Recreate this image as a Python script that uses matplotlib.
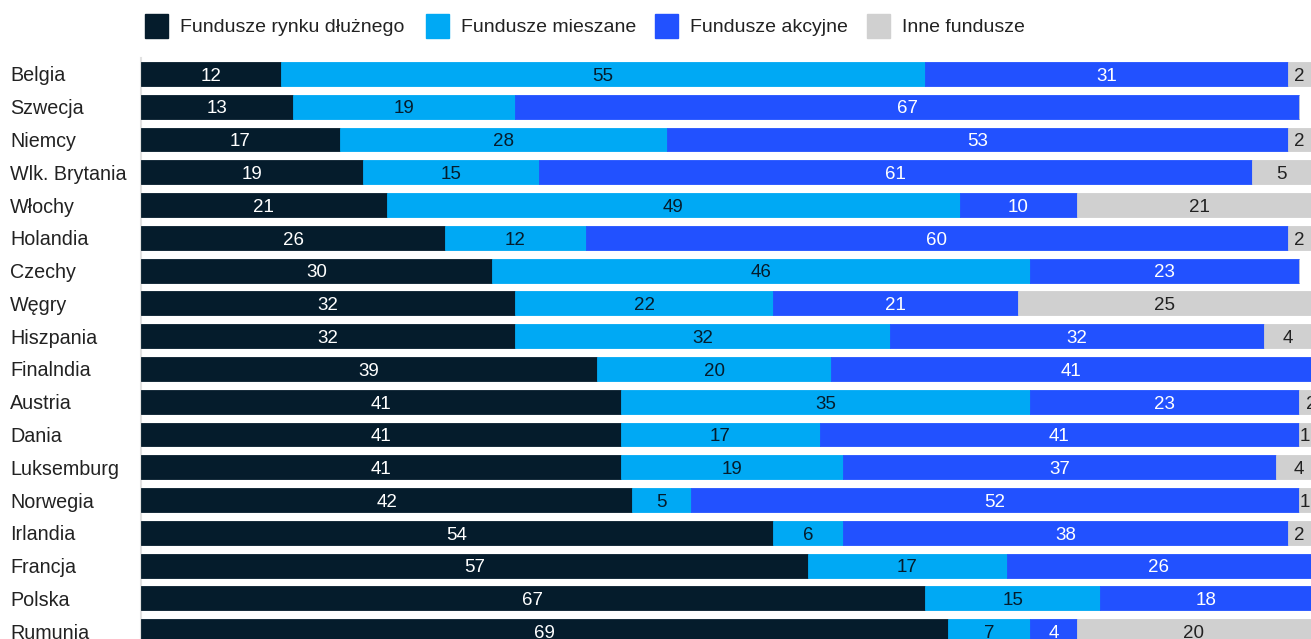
import matplotlib
matplotlib.use("Agg")
import matplotlib.pyplot as plt
from matplotlib.patches import Rectangle

plt.rcParams["font.family"] = ["Liberation Sans", "DejaVu Sans"]

countries = [
    "Belgia", "Szwecja", "Niemcy", "Wlk. Brytania", "Włochy", "Holandia",
    "Czechy", "Węgry", "Hiszpania", "Finalndia", "Austria", "Dania",
    "Luksemburg", "Norwegia", "Irlandia", "Francja", "Polska", "Rumunia",
]
debt = [12, 13, 17, 19, 21, 26, 30, 32, 32, 39, 41, 41, 41, 42, 54, 57, 67, 69]
mixed = [55, 19, 28, 15, 49, 12, 46, 22, 32, 20, 35, 17, 19, 5, 6, 17, 15, 7]
equity = [31, 67, 53, 61, 10, 60, 23, 21, 32, 41, 23, 41, 37, 52, 38, 26, 18, 4]
other = [2, 0, 2, 5, 21, 2, 0, 25, 4, 0, 2, 1, 4, 1, 2, 0, 1, 20]

series = [
    ("Fundusze rynku dłużnego", debt, "#051C2C", "white"),
    ("Fundusze mieszane", mixed, "#00A9F4", "#051C2C"),
    ("Fundusze akcyjne", equity, "#2251FF", "white"),
    ("Inne fundusze", other, "#D0D0D0", "#222222"),
]

fig = plt.figure(figsize=(13.11, 6.39), dpi=100)
ax = fig.add_axes([0.1075, -0.0135, 0.8925, 0.9235])

y = range(len(countries))
left = [0] * len(countries)
for name, vals, color, txt_color in series:
    ax.barh(y, vals, left=left, height=0.73, color=color,
            edgecolor=color, linewidth=0.6, zorder=3)
    for i, v in enumerate(vals):
        if v > 0:
            ax.text(left[i] + v / 2, i + 0.07, str(v), ha="center", va="center",
                    color=txt_color, fontsize=13.5, zorder=4)
    left = [l + v for l, v in zip(left, vals)]

ax.set_xlim(0, 100)
ax.set_ylim(len(countries) - 0.5, -0.5)
ax.set_yticks(list(y))
ax.set_yticklabels(countries, fontsize=14.2, color="#222222")
for lbl in ax.get_yticklabels():
    lbl.set_horizontalalignment("left")
# pad in points: puts label starts ~10 px from the figure edge
ax.tick_params(axis="y", length=0, pad=94)
ax.set_xticks([])
for spine in ["top", "right", "bottom"]:
    ax.spines[spine].set_visible(False)
ax.spines["left"].set_color("#E2E2E2")
ax.spines["left"].set_linewidth(1.5)

# legend row across the top
legend_x = [145, 426, 655, 867]
for (name, vals, color, _), x in zip(series, legend_x):
    fig.patches.append(Rectangle((x / 1311, 1 - 38 / 639), 23 / 1311, 24 / 639,
                                 transform=fig.transFigure, color=color))
    fig.text((x + 35) / 1311, 1 - 28 / 639, name, ha="left", va="center",
             fontsize=14, color="#222222")

fig.savefig("out.png", dpi=100)
